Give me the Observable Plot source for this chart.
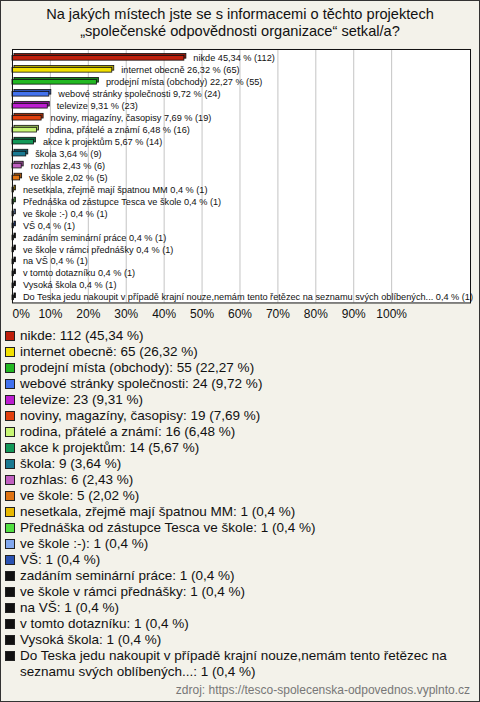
<!DOCTYPE html>
<html><head><meta charset="utf-8">
<script src="https://cdn.jsdelivr.net/npm/d3@7"></script>
<script src="https://cdn.jsdelivr.net/npm/@observablehq/plot@0.6"></script>
<style>
html,body{margin:0;padding:0;background:#fff}
#wrap{position:relative;width:480px;height:702px;box-sizing:border-box;border:1px solid #333;background:#f3f2ea;font-family:"Liberation Sans",Arial,sans-serif;color:#111;overflow:hidden}
#title{position:absolute;top:5px;left:0;width:478px;text-align:center;font-size:14.6px;line-height:17px}
#chart{position:absolute;top:43px;left:-1px}
#legend{position:absolute;top:327px;left:4px;width:466px;font-size:13.5px;line-height:16px}
.item{display:flex;align-items:flex-start}
.sw{flex:none;width:8px;height:8px;border:1px solid #222;margin:3px 5px 0 0}
#footer{position:absolute;right:9px;top:682px;font-size:12px;color:#777}
</style></head>
<body>
<div id="wrap">
  <div id="title">Na jakých místech jste se s informacemi o těchto projektech<br>„společenské odpovědnosti organizace“ setkal/a?</div>
  <div id="chart"></div>
  <div id="legend"></div>
  <div id="footer">zdroj: https://tesco-spolecenska-odpovednos.vyplnto.cz</div>
</div>
<script>
const categories = [
  "nikde",
  "internet obecně",
  "prodejní místa (obchody)",
  "webové stránky společnosti",
  "televize",
  "noviny, magazíny, časopisy",
  "rodina, přátelé a známí",
  "akce k projektům",
  "škola",
  "rozhlas",
  "ve škole",
  "nesetkala, zřejmě mají špatnou MM",
  "Přednáška od zástupce Tesca ve škole",
  "ve škole :-)",
  "VŠ",
  "zadáním seminární práce",
  "ve škole v rámci přednášky",
  "na VŠ",
  "v tomto dotazníku",
  "Vysoká škola",
  "Do Teska jedu nakoupit v případě krajní nouze,nemám tento řetězec na seznamu svých oblíbených..."
];
const counts = [112, 65, 55, 24, 23, 19, 16, 14, 9, 6, 5, 1, 1, 1, 1, 1, 1, 1, 1, 1, 1];
const percents = [45.34, 26.32, 22.27, 9.72, 9.31, 7.69, 6.48, 5.67, 3.64, 2.43, 2.02, 0.4, 0.4, 0.4, 0.4, 0.4, 0.4, 0.4, 0.4, 0.4, 0.4];
const colors = [
  "#c0200c", "#f2e000", "#22b822", "#4272ee", "#bc1ed0", "#e2400e", "#c8f674",
  "#129858", "#1a7a92", "#c060c0", "#e07412", "#e8b800", "#52e042", "#82a8ee",
  "#2a52b2", "#111111", "#111111", "#111111", "#111111", "#111111", "#111111"
];
const tickValues = [0, 10, 20, 30, 40, 50, 60, 70, 80, 90, 100];
const xMax = 120.8;

const fmt = v => String(v).replace(".", ",");
const data = categories.map((c, i) => ({cat: c, count: counts[i], pct: percents[i], color: colors[i], dark: d3.color(colors[i]).darker(0.9).formatHex()}));

const chart = Plot.plot({
  width: 480, height: 281,
  marginLeft: 12, marginRight: 9, marginTop: 5, marginBottom: 22,
  style: {background: "transparent", fontFamily: "Liberation Sans, Arial, sans-serif", fontSize: "9px", color: "#111", overflow: "visible"},
  x: {domain: [0, xMax], axis: null, label: null},
  y: {domain: categories, padding: 0, axis: null, label: null},
  color: {type: "identity"},
  marks: [
    Plot.frame({fill: "white", stroke: "none"}),
    Plot.gridX(tickValues.slice(1), {stroke: "#c4c4c4", strokeOpacity: 1}),
    Plot.barX(data, {x1: d => 0, x2: "pct", y: "cat", fill: "dark", stroke: "#111", strokeWidth: 0.8, insetTop: 5.5, insetBottom: 1.8, dx: 2, dy: -2}),
    Plot.barX(data, {x1: d => 0, x2: "pct", y: "cat", fill: "color", stroke: "#111", strokeWidth: 0.8, insetTop: 5.5, insetBottom: 1.8}),
    Plot.text(data, {x: "pct", y: "cat", text: d => `${d.cat} ${fmt(d.pct)} % (${d.count})`, textAnchor: "start", dx: 9, dy: 1.5, fill: "#111", fontSize: 9.2}),
    Plot.frame({stroke: "#111"}),
    Plot.axisX({ticks: [0], tickFormat: d => d + "%", tickSize: 0, tickPadding: 7, fontSize: 12, textAnchor: "start", label: null}),
    Plot.axisX({ticks: tickValues.slice(1), tickFormat: d => d + "%", tickSize: 0, tickPadding: 7, fontSize: 12, label: null})
  ]
});
document.getElementById("chart").appendChild(chart);

const legend = document.getElementById("legend");
data.forEach(d => {
  const it = document.createElement("div");
  it.className = "item";
  const sw = document.createElement("span");
  sw.className = "sw";
  sw.style.background = d.color;
  const tx = document.createElement("span");
  tx.textContent = `${d.cat}: ${d.count} (${fmt(d.pct)} %)`;
  it.appendChild(sw); it.appendChild(tx);
  legend.appendChild(it);
});
</script>
</body></html>
